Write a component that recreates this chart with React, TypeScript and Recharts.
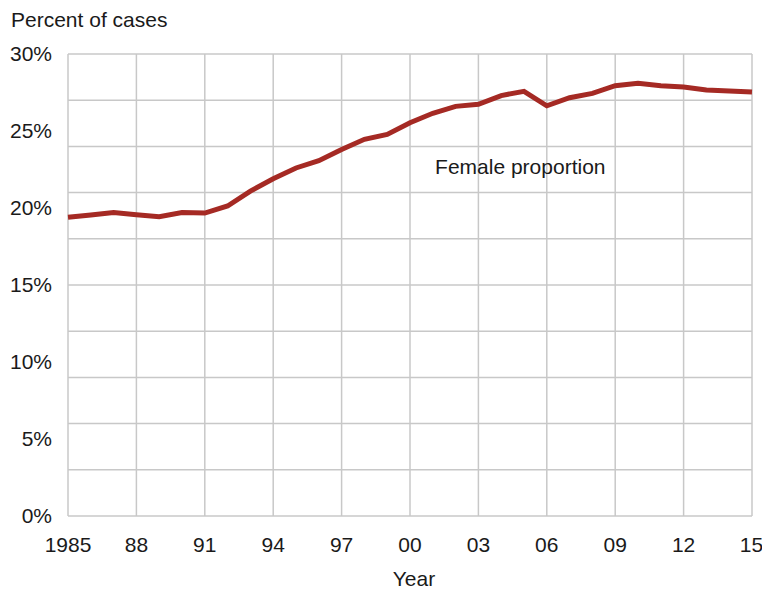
import {
  CartesianGrid,
  Line,
  LineChart,
  ReferenceDot,
  XAxis,
  YAxis,
} from "recharts";

const years = [
  1985, 1986, 1987, 1988, 1989, 1990, 1991, 1992, 1993, 1994, 1995, 1996,
  1997, 1998, 1999, 2000, 2001, 2002, 2003, 2004, 2005, 2006, 2007, 2008,
  2009, 2010, 2011, 2012, 2013, 2014, 2015,
];
const femaleShare = [
  19.4, 19.55, 19.7, 19.56, 19.44, 19.7, 19.67, 20.13, 21.1, 21.9, 22.6,
  23.07, 23.8, 24.46, 24.78, 25.54, 26.15, 26.6, 26.73, 27.3, 27.58, 26.64,
  27.16, 27.44, 27.94, 28.1, 27.94, 27.86, 27.66, 27.6, 27.53,
];
const xTicks = [1985, 1988, 1991, 1994, 1997, 2000, 2003, 2006, 2009, 2012, 2015];
const yTicks = [0, 5, 10, 15, 20, 25, 30];
const gridY = [0, 3, 6, 9, 12, 15, 18, 21, 24, 27, 30];

const data = years.map((year, i) => ({ year, share: femaleShare[i] }));

const font = "'Liberation Sans', Arial, Helvetica, sans-serif";
const ink = "#1a1a1a";
const fs = 21;

const fmtYear = (y: number) => (y === 1985 ? "1985" : String(y % 100).padStart(2, "0"));

export default function App() {
  return (
    <div style={{ position: "absolute", left: 0, top: 0, width: 762, height: 590, fontFamily: font }}>
      <div
        style={{
          position: "absolute",
          left: 11,
          top: 8,
          fontSize: fs,
          lineHeight: "24px",
          color: ink,
        }}
      >
        Percent of cases
      </div>
      <LineChart
        width={762}
        height={590}
        data={data}
        margin={{ top: 54, right: 10, left: 0, bottom: 0 }}
      >
        <CartesianGrid
          stroke="#c8c8c8"
          strokeWidth={1.5}
          horizontalValues={gridY}
          verticalValues={xTicks}
        />
        <XAxis
          dataKey="year"
          type="number"
          domain={[1985, 2015]}
          ticks={xTicks}
          tickFormatter={fmtYear}
          axisLine={false}
          tickLine={false}
          tickSize={0}
          tickMargin={21}
          height={74}
          tick={{ fill: ink, fontSize: fs, fontFamily: font }}
          label={{
            value: "Year",
            position: "insideBottom",
            offset: 4,
            dx: 4,
            fill: ink,
            fontSize: fs,
            fontFamily: font,
          }}
        />
        <YAxis
          type="number"
          domain={[0, 30]}
          ticks={yTicks}
          tickFormatter={(v: number) => `${v}%`}
          axisLine={false}
          tickLine={false}
          tickSize={0}
          tickMargin={16}
          width={68}
          tick={{ fill: ink, fontSize: fs, fontFamily: font }}
        />
        <Line
          dataKey="share"
          type="linear"
          stroke="#a52a24"
          strokeWidth={5}
          dot={false}
          isAnimationActive={false}
        />
        <ReferenceDot
          x={2001.1}
          y={22.66}
          r={0}
          fill="none"
          stroke="none"
          label={{
            value: "Female proportion",
            position: "right",
            offset: 0,
            fill: ink,
            fontSize: fs,
            fontFamily: font,
          }}
        />
      </LineChart>
    </div>
  );
}
